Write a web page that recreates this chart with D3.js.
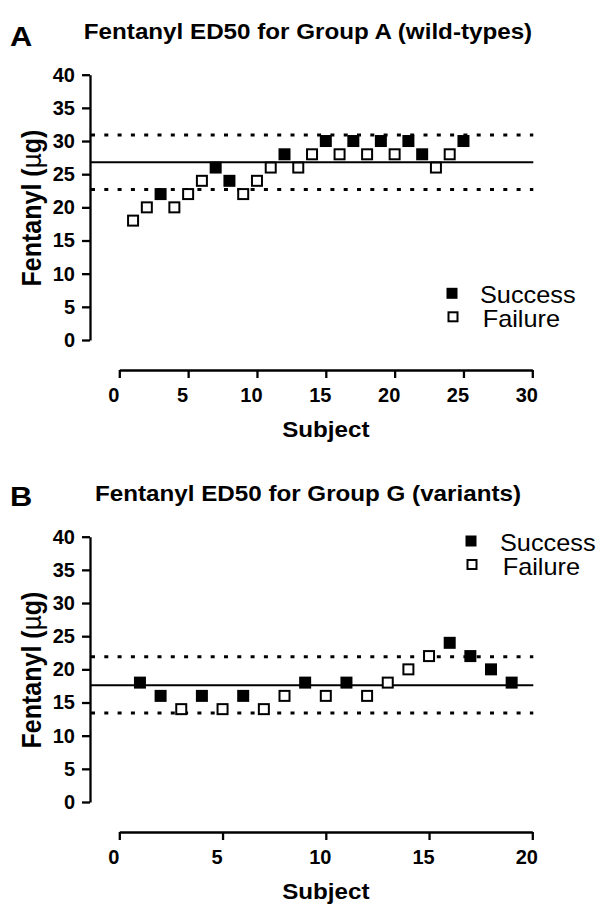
<!DOCTYPE html>
<html><head><meta charset="utf-8">
<script src="https://cdn.jsdelivr.net/npm/d3@7"></script>
<style>
body{margin:0;background:#fff}
svg{display:block}
text{font-family:'Liberation Sans',Arial,Helvetica,sans-serif;fill:#000}
</style>
</head><body>
<svg id="chart" width="604" height="915"></svg>
<script>
// ---------------- DATA ----------------
const titleA = "Fentanyl ED50 for Group A (wild-types)";
const titleB = "Fentanyl ED50 for Group G (variants)";
const yTicks = [0, 5, 10, 15, 20, 25, 30, 35, 40];
const xTicksA = [0, 5, 10, 15, 20, 25, 30];
const xTicksB = [0, 5, 10, 15, 20];

const subjectsA = [1,2,3,4,5,6,7,8,9,10,11,12,13,14,15,16,17,18,19,20,21,22,23,24,25];
const doseA     = [18,20,22,20,22,24,26,24,22,24,26,28,26,28,30,28,30,28,30,28,30,28,26,28,30];
const outcomeA  = ["Failure","Failure","Success","Failure","Failure","Failure","Success","Success","Failure","Failure","Failure","Success","Failure","Failure","Success","Failure","Success","Failure","Success","Failure","Success","Success","Failure","Failure","Success"];
const ed50A = 26.8;
const ciA   = [22.7, 30.9];

const subjectsB = [1,2,3,4,5,6,7,8,9,10,11,12,13,14,15,16,17,18,19];
const doseB     = [18,16,14,16,14,16,14,16,18,16,18,16,18,20,22,24,22,20,18];
const outcomeB  = ["Success","Success","Failure","Success","Failure","Success","Failure","Failure","Success","Failure","Success","Failure","Failure","Failure","Failure","Success","Success","Success","Success"];
const ed50B = 17.6;
const ciB   = [13.4, 21.9];

const legendLabels = ["Success", "Failure"];

// ---------------- DRAW ----------------
const svg = d3.select("#chart");
const SX = 1.1; // horizontal glyph stretch of the reference

function stretchedText(g, x, y, str, opts) {
  return g.append("text")
    .attr("transform", `translate(${x},${y}) scale(${SX},1)`)
    .attr("text-anchor", opts.anchor || "start")
    .style("font-size", opts.size + "px")
    .style("font-weight", opts.weight || "normal")
    .text(str);
}

function drawPanel(cfg) {
  const g = svg.append("g").attr("transform", `translate(0,${cfg.top})`);
  const axisX = 90;
  const x = d3.scaleLinear().domain([0, cfg.xMax]).range([119.3, 532.3]);
  const y = d3.scaleLinear().domain([0, 40]).range([340, 74.7]);

  // panel letter and title
  stretchedText(g, 10, cfg.letterBase, cfg.letter, {size: 28, weight: "bold"});
  stretchedText(g, 308, cfg.titleBase, cfg.title, {size: 22, weight: "bold", anchor: "middle"});

  // y axis
  const ya = g.append("g").attr("transform", `translate(${axisX},0)`)
    .call(d3.axisLeft(y).tickValues(yTicks).tickSize(8).tickSizeOuter(0).tickPadding(7));
  // x axis
  const xa = g.append("g").attr("transform", `translate(0,370)`)
    .call(d3.axisBottom(x).tickValues(cfg.xTicks).tickSize(8).tickSizeOuter(0).tickPadding(9.5));
  [ya, xa].forEach(a => {
    a.select(".domain").attr("stroke", "#000").attr("stroke-width", 2.3);
    a.selectAll(".tick line").attr("stroke", "#000").attr("stroke-width", 2.3);
    a.selectAll(".tick text").style("font-size", "20px").style("font-weight", "bold")
      .attr("fill", "#000").style("font-family", "'Liberation Sans',Arial,sans-serif");
  });
  xa.selectAll(".tick text").attr("dx", -6);

  // axis titles
  stretchedText(g, (x(0) + x(cfg.xMax)) / 2, 437.3, "Subject", {size: 22, weight: "bold", anchor: "middle"});
  const yl = g.append("text")
    .attr("transform", `translate(41,208) rotate(-90) scale(1,${SX})`)
    .attr("text-anchor", "middle")
    .style("font-size", "25px").style("font-weight", "bold");
  yl.append("tspan").text("Fentanyl (");
  yl.append("tspan").style("font-weight", "normal").style("font-family", "'DejaVu Sans',sans-serif").style("font-size", "24px").text("μ");
  yl.append("tspan").text("g)");

  // reference lines
  const x2 = x(cfg.xMax) + 1;
  g.append("line").attr("x1", axisX).attr("x2", x2)
    .attr("y1", y(cfg.ed50)).attr("y2", y(cfg.ed50))
    .attr("stroke", "#000").attr("stroke-width", 2.2);
  cfg.ci.forEach(v => {
    g.append("line").attr("x1", axisX + 1).attr("x2", x2)
      .attr("y1", y(v)).attr("y2", y(v))
      .attr("stroke", "#000").attr("stroke-width", 3)
      .attr("stroke-dasharray", "4,9.3");
  });

  // points
  const data = cfg.subjects.map((s, i) => ({s, d: cfg.dose[i], o: cfg.outcome[i]}));
  const size = 12;
  g.selectAll("rect.pt").data(data).enter().append("rect")
    .attr("class", "pt")
    .attr("x", d => x(d.s) - (d.o === "Success" ? size / 2 : size / 2 - 1))
    .attr("y", d => y(d.d) - (d.o === "Success" ? size / 2 : size / 2 - 1))
    .attr("width", d => d.o === "Success" ? size : size - 2)
    .attr("height", d => d.o === "Success" ? size : size - 2)
    .attr("fill", d => d.o === "Success" ? "#000" : "#fff")
    .attr("stroke", d => d.o === "Success" ? "none" : "#000")
    .attr("stroke-width", 2);

  // legend
  const lg = g.append("g");
  legendLabels.forEach((lab, i) => {
    const cx = cfg.legend.x + (i === 1 ? 1 : 0);
    const cy = cfg.legend.y + i * 23.5;
    const s = 11;
    if (lab === "Success") {
      lg.append("rect").attr("x", cx - s / 2).attr("y", cy - s / 2).attr("width", s).attr("height", s).attr("fill", "#000");
    } else {
      lg.append("rect").attr("x", cx - s / 2 + 1).attr("y", cy - s / 2 + 1).attr("width", s - 2).attr("height", s - 2)
        .attr("fill", "#fff").attr("stroke", "#000").attr("stroke-width", 2);
    }
    stretchedText(lg, cfg.legend.tx + (i === 1 ? 2.7 : 0), cy + 10, lab, {size: 23});
  });
}

drawPanel({top: 0, letter: "A", letterBase: 46, title: titleA, titleBase: 38.5,
  xMax: 30, xTicks: xTicksA, subjects: subjectsA, dose: doseA, outcome: outcomeA,
  ed50: ed50A, ci: ciA, legend: {x: 452, y: 293.3, tx: 480}});
drawPanel({top: 462, letter: "B", letterBase: 44, title: titleB, titleBase: 39,
  xMax: 20, xTicks: xTicksB, subjects: subjectsB, dose: doseB, outcome: outcomeB,
  ed50: ed50B, ci: ciB, legend: {x: 471, y: 79, tx: 500}});
</script>
</body></html>
